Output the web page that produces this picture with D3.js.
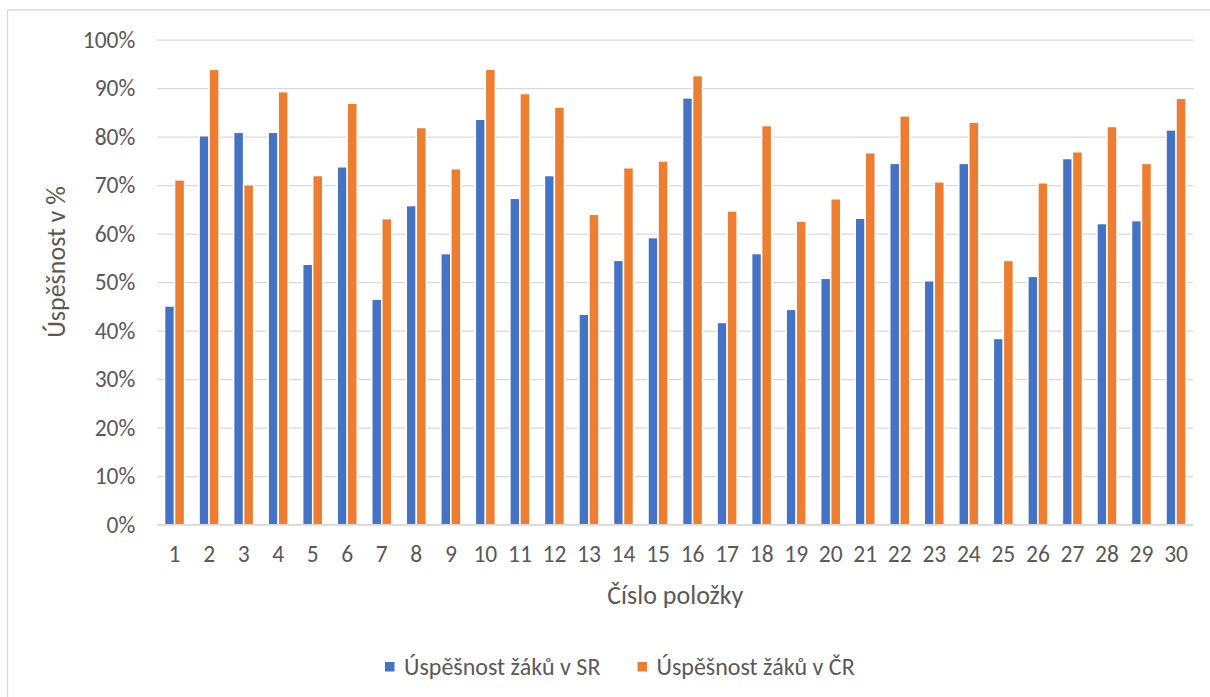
<!DOCTYPE html>
<html>
<head>
<meta charset="utf-8">
<script src="https://cdn.jsdelivr.net/npm/d3@7"></script>
<style>
  html, body { margin: 0; padding: 0; background: #fff; }
  svg { display: block; font-family: Carlito, "Open Sans", sans-serif; }
</style>
</head>
<body>
<svg id="chart" width="1210" height="697"></svg>
<script>
// Item numbers on the x axis
const items = d3.range(1, 31).map(String);

// Success rate (%) per item
const sr = [45.1, 80.2, 80.9, 80.9, 53.7, 73.8, 46.5, 65.8, 55.9, 83.6,
            67.3, 72.0, 43.4, 54.5, 59.2, 88.0, 41.7, 55.9, 44.4, 50.8,
            63.2, 74.5, 50.3, 74.5, 38.4, 51.2, 75.5, 62.1, 62.7, 81.4];
const cr = [71.1, 93.9, 70.1, 89.3, 72.0, 86.9, 63.1, 81.9, 73.4, 93.9,
            88.9, 86.1, 64.0, 73.6, 75.0, 92.6, 64.7, 82.3, 62.6, 67.2,
            76.7, 84.3, 70.7, 83.0, 54.5, 70.5, 76.9, 82.1, 74.5, 87.9];

const seriesNames = ["Úspěšnost žáků v SR", "Úspěšnost žáků v ČR"];
const seriesColors = ["#4472C4", "#ED7D31"];
const yTicks = [0, 10, 20, 30, 40, 50, 60, 70, 80, 90, 100];

const rows = items.map((k, i) => ({ item: k, values: [sr[i], cr[i]] }));

const svg = d3.select("#chart");
const plot = { left: 157.3, right: 1193.3, top: 39.7, bottom: 524.7 };
const textColor = "#595959";
const gridColor = "#d9d9d9";
const tickFont = 23.5;
const titleFont = 26;
const legendFont = 24;

// Chart frame (top and left edges)
svg.append("line").attr("x1", 7.5).attr("x2", 1210).attr("y1", 10).attr("y2", 10)
  .attr("stroke", gridColor).attr("stroke-width", 1.3);
svg.append("line").attr("x1", 7.5).attr("x2", 7.5).attr("y1", 10).attr("y2", 697)
  .attr("stroke", gridColor).attr("stroke-width", 1.3);

const x0 = d3.scaleBand().domain(items).range([plot.left, plot.right])
  .paddingInner(0.42).paddingOuter(0.21);
const x1 = d3.scaleBand().domain([0, 1]).range([0, x0.bandwidth()]);
const y = d3.scaleLinear().domain([0, 100]).range([plot.bottom, plot.top]);

// Horizontal gridlines with percent labels
const yAxis = d3.axisLeft(y).tickValues(yTicks).tickFormat(d => d + "%")
  .tickSize(-(plot.right - plot.left)).tickPadding(22);
const gy = svg.append("g").attr("transform", `translate(${plot.left},0)`).call(yAxis);
gy.select(".domain").remove();
gy.selectAll(".tick line").attr("stroke", gridColor).attr("stroke-width", 1.3);
gy.selectAll(".tick text").attr("fill", textColor).attr("font-size", tickFont)
  .attr("font-family", "Carlito, 'Open Sans', sans-serif");

// Bars
const groups = svg.append("g").selectAll("g").data(rows).join("g")
  .attr("transform", d => `translate(${x0(d.item)},0)`);
groups.selectAll("rect").data(d => d.values.map((v, s) => ({ v, s }))).join("rect")
  .attr("x", d => x1(d.s))
  .attr("width", x1.bandwidth())
  .attr("y", d => y(d.v))
  .attr("height", d => y(0) - y(d.v))
  .attr("fill", d => seriesColors[d.s])
  .attr("stroke", "#fff")
  .attr("stroke-width", 1.5);

// Baseline and item labels
const xAxis = d3.axisBottom(x0).tickSize(0).tickPadding(21);
const gx = svg.append("g").attr("transform", `translate(0,${plot.bottom})`).call(xAxis);
gx.select(".domain").attr("stroke", gridColor).attr("stroke-width", 1.6)
  .attr("d", `M${plot.left},0H${plot.right}`);
gx.selectAll(".tick text").attr("fill", textColor).attr("font-size", tickFont)
  .attr("font-family", "Carlito, 'Open Sans', sans-serif");

// Axis titles
svg.append("text").attr("x", (plot.left + plot.right) / 2).attr("y", 604)
  .attr("text-anchor", "middle").attr("fill", textColor).attr("font-size", titleFont)
  .text("Číslo položky");
svg.append("text").attr("transform", "translate(65,262) rotate(-90)")
  .attr("text-anchor", "middle").attr("fill", textColor).attr("font-size", titleFont)
  .text("Úspěšnost v %");

// Legend
const legendX = [385, 637.5];
const legend = svg.append("g").selectAll("g").data(seriesNames).join("g")
  .attr("transform", (d, i) => `translate(${legendX[i]},662)`);
legend.append("rect").attr("width", 9.5).attr("height", 9.5)
  .attr("fill", (d, i) => seriesColors[i]);
legend.append("text").attr("x", 19).attr("y", 13)
  .attr("fill", textColor).attr("font-size", legendFont).text(d => d);
</script>
</body>
</html>
